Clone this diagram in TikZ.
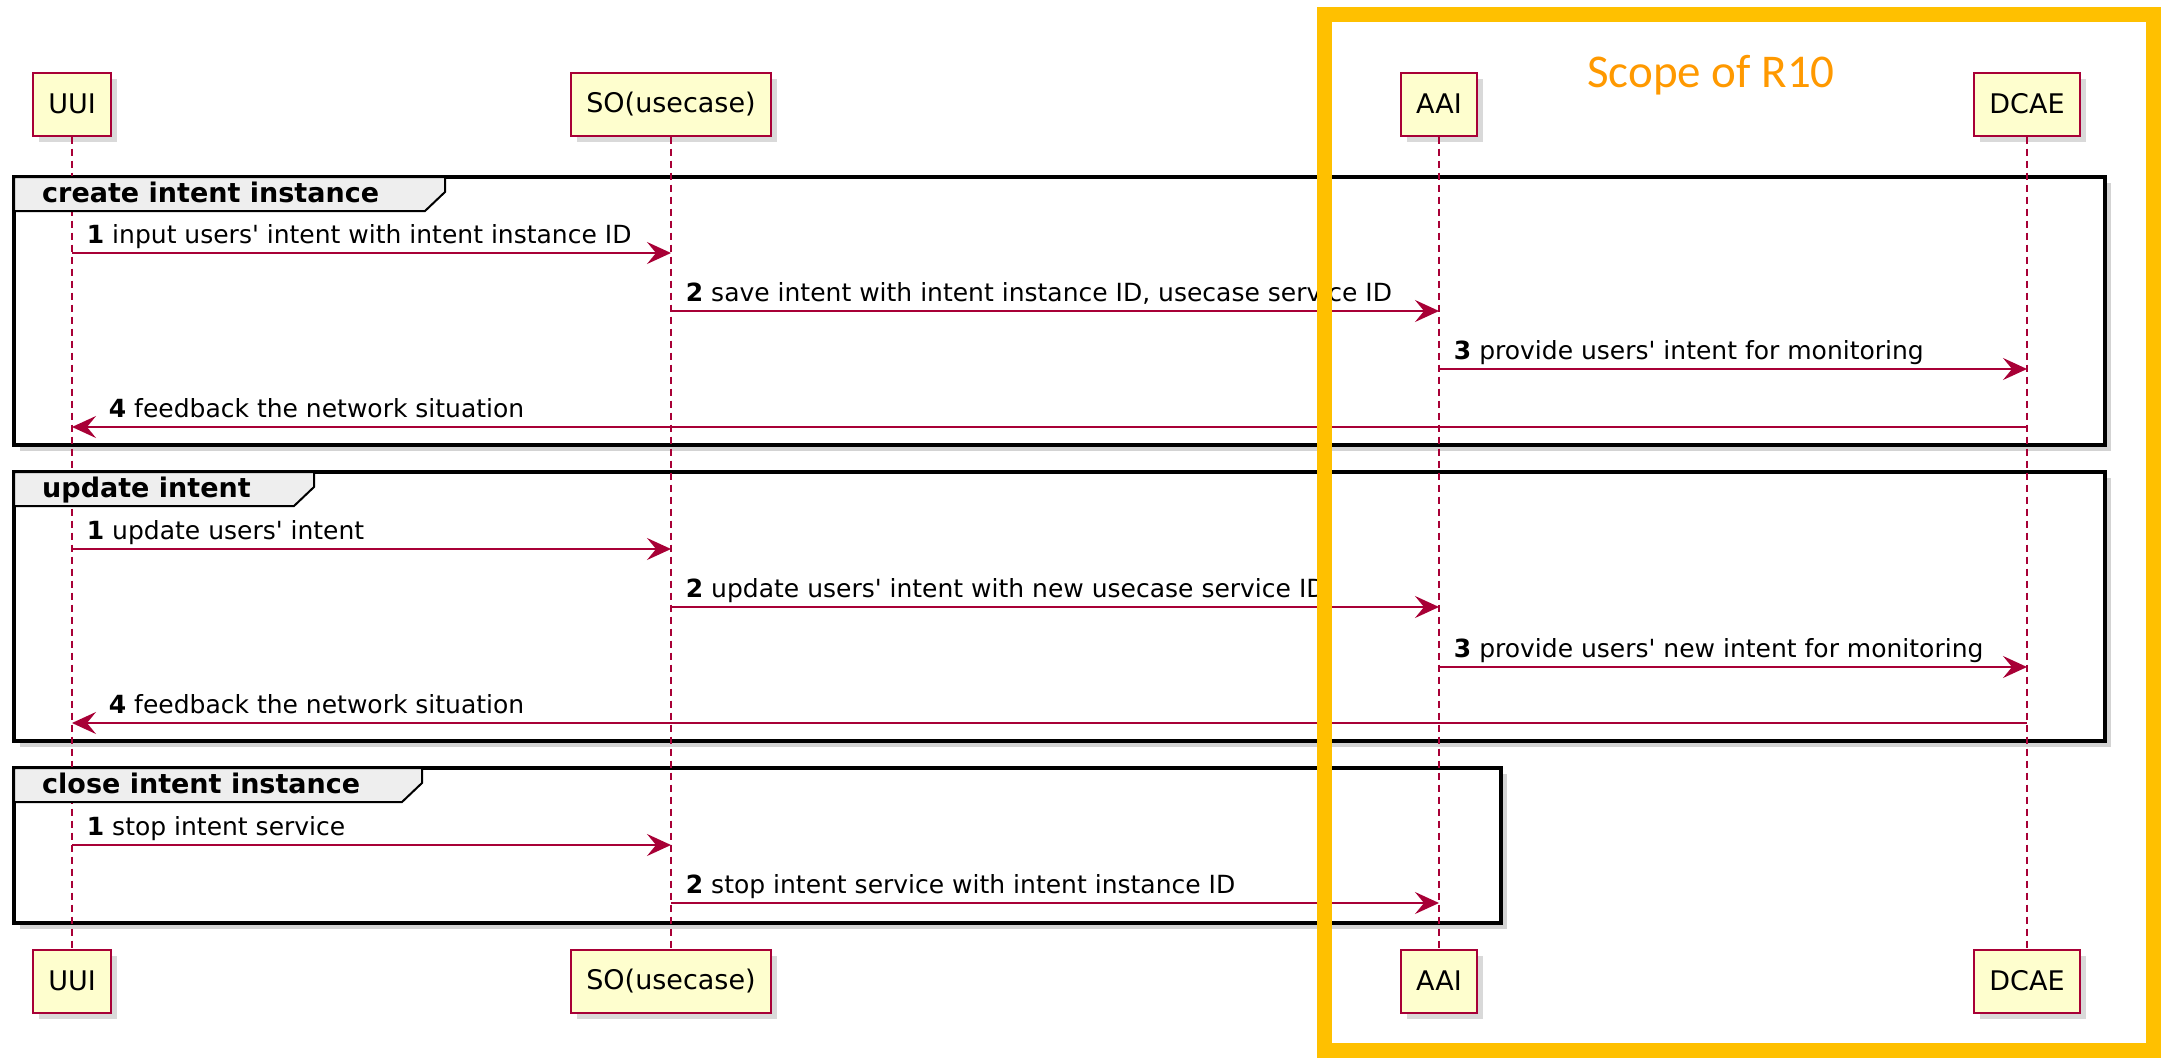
\documentclass[tikz,border=0pt]{standalone}
\usepackage{fontspec}
\setmainfont{DejaVu Sans}
\newfontfamily\scopefont{Carlito}
\usetikzlibrary{arrows.meta,shadows}
\definecolor{umlred}{HTML}{A80036}
\definecolor{umlfill}{HTML}{FEFECE}
\definecolor{tabgray}{HTML}{EEEEEE}
\definecolor{scopeyellow}{HTML}{FFC000}
\definecolor{scopeorange}{HTML}{FF9900}
\def\q{\textquotesingle}
\tikzset{
  actor/.style={draw=umlred, fill=umlfill, line width=2pt, minimum height=63pt,
    inner xsep=15pt, font=\fontsize{27}{30}\selectfont,
    drop shadow={shadow xshift=6pt, shadow yshift=-6pt, opacity=0.3}},
  life/.style={draw=umlred, line width=1.4pt, dash pattern=on 7pt off 5pt},
  msg/.style={draw=umlred, line width=1.8pt,
    -{Stealth[length=24pt, width=22pt, inset=9pt]}},
  lbl/.style={font=\fontsize{25}{28}\selectfont, anchor=base west,
    inner sep=0pt, xshift=14pt, yshift=10pt},
  back/.style={xshift=22pt},
  group/.style={draw=black, line width=4pt, fill=white,
    drop shadow={shadow xshift=6pt, shadow yshift=-6pt, opacity=0.35}},
  tab/.style={draw=black, line width=2pt, fill=tabgray},
  tabtext/.style={font=\bfseries\fontsize{27}{29}\selectfont, anchor=base west, inner sep=0pt},
}

\begin{document}
\begin{tikzpicture}[x=1pt,y=-1pt]
  \useasboundingbox (0,0) rectangle (2169,1060);
  % participants
  \node[actor] (uui) at (72,104) {UUI};
  \node[actor] (so) at (671,104) {SO(usecase)};
  \node[actor] (aai) at (1439,104) {AAI};
  \node[actor] (dcae) at (2027,104) {DCAE};
  \node[actor] (uui-b) at (72,981) {UUI};
  \node[actor] (so-b) at (671,981) {SO(usecase)};
  \node[actor] (aai-b) at (1439,981) {AAI};
  \node[actor] (dcae-b) at (2027,981) {DCAE};

  % groups
  \draw[group] (14,177) rectangle (2105,445);
  \draw[group] (14,472) rectangle (2105,741);
  \draw[group] (14,768) rectangle (1501,923);

  % lifelines
  \foreach \p in {uui,so,aai,dcae}
    \draw[life] (\p) -- (\p-b);

  % group headers
  \draw[tab] (14,177) -- (445,177) -- (445,192) -- (425,211) -- (14,211) -- cycle;
  \node[tabtext] (g1) at (42,202) {create intent instance};
  \draw[tab] (14,472) -- (314,472) -- (314,487) -- (294,506) -- (14,506) -- cycle;
  \node[tabtext] (g2) at (42,497) {update intent};
  \draw[tab] (14,768) -- (422,768) -- (422,783) -- (402,802) -- (14,802) -- cycle;
  \node[tabtext] (g3) at (42,793) {close intent instance};

  % create intent instance
  \draw[msg] (uui |- 0,253) -- node[lbl, pos=0] (c1) {\textbf{1} input users\q{} intent with intent instance ID} (so |- 0,253);
  \draw[msg] (so |- 0,311) -- node[lbl, pos=0] (c2) {\textbf{2} save intent with intent instance ID, usecase service ID} (aai |- 0,311);
  \draw[msg] (aai |- 0,369) -- node[lbl, pos=0] (c3) {\textbf{3} provide users\q{} intent for monitoring} (dcae |- 0,369);
  \draw[msg] (dcae |- 0,427) -- node[lbl, back, pos=1] (c4) {\textbf{4} feedback the network situation} (uui |- 0,427);

  % update intent
  \draw[msg] (uui |- 0,549) -- node[lbl, pos=0] (u1) {\textbf{1} update users\q{} intent} (so |- 0,549);
  \draw[msg] (so |- 0,607) -- node[lbl, pos=0] (u2) {\textbf{2} update users\q{} intent with new usecase service ID} (aai |- 0,607);
  \draw[msg] (aai |- 0,667) -- node[lbl, pos=0] (u3) {\textbf{3} provide users\q{} new intent for monitoring} (dcae |- 0,667);
  \draw[msg] (dcae |- 0,723) -- node[lbl, back, pos=1] (u4) {\textbf{4} feedback the network situation} (uui |- 0,723);

  % close intent instance
  \draw[msg] (uui |- 0,845) -- node[lbl, pos=0] (s1) {\textbf{1} stop intent service} (so |- 0,845);
  \draw[msg] (so |- 0,903) -- node[lbl, pos=0] (s2) {\textbf{2} stop intent service with intent instance ID} (aai |- 0,903);

  % scope
  \draw[scopeyellow, line width=15pt] (1324,14) rectangle (2153,1050);
  \node[font=\scopefont\fontsize{47}{50}\selectfont, text=scopeorange] (scope) at (1711,75) {Scope of R10};
\end{tikzpicture}
\end{document}
